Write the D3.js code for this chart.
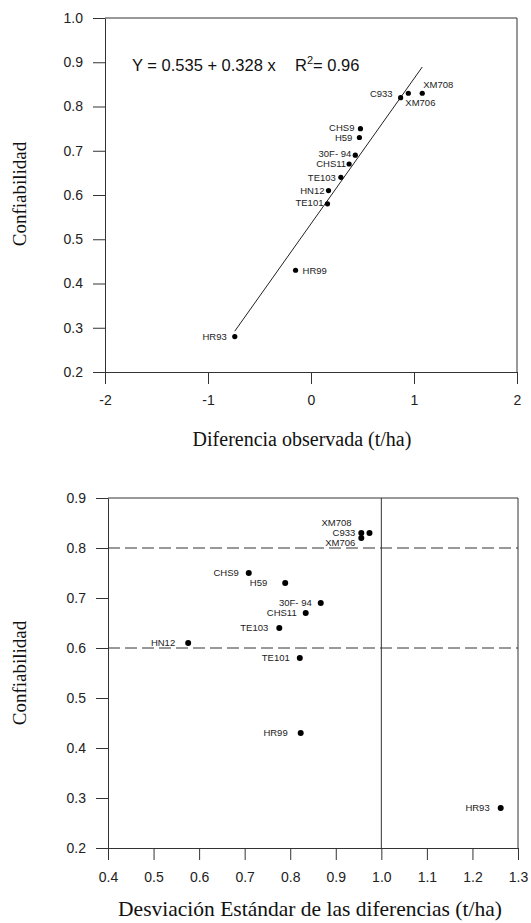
<!DOCTYPE html>
<html>
<head>
<meta charset="utf-8">
<script src="https://cdn.jsdelivr.net/npm/d3@7"></script>
<style>
    body { margin: 0; background: #fff; }
    svg { display: block; }
    .tick text { font-family: "Liberation Sans", Arial, sans-serif; font-size: 14px; fill: #222; }
    .tick line, .domain { stroke: #333; }
    .title { font-family: "Liberation Serif", "Times New Roman", serif; fill: #111; }
    .lbl { font-family: "Liberation Sans", Arial, sans-serif; font-size: 9.5px; fill: #222; }
</style>
</head>
<body>
<svg id="chart"></svg>
<script>
// hybrid names
const hybrids = ['HR93', 'HR99', 'TE101', 'HN12', 'TE103', 'CHS11', '30F- 94', 'H59', 'CHS9', 'C933', 'XM706', 'XM708'];

// confiabilidad
const reliability = [0.28, 0.43, 0.58, 0.61, 0.64, 0.67, 0.69, 0.73, 0.75, 0.82, 0.83, 0.83];

// diferencia observada (t/ha)
const observedDiff = [-0.74, -0.15, 0.16, 0.17, 0.29, 0.37, 0.43, 0.47, 0.48, 0.87, 0.945, 1.08];

// desviacion estandar de las diferencias (t/ha)
const stdDiff = [1.262, 0.823, 0.821, 0.576, 0.776, 0.834, 0.867, 0.789, 0.709, 0.956, 0.956, 0.974];
const reliability2 = [0.28, 0.43, 0.58, 0.61, 0.64, 0.67, 0.69, 0.73, 0.75, 0.83, 0.82, 0.83];

// regression
const intercept = 0.535;
const slope = 0.328;
const r2 = 0.96;
const fitRange = [-0.74, 1.08];

// reference lines in the bottom panel
const hLines = [0.8, 0.6];
const vLines = [1.0];

const xTicksTop = [-2, -1, 0, 1, 2];
const yTicksTop = [0.2, 0.3, 0.4, 0.5, 0.6, 0.7, 0.8, 0.9, 1.0];
const xTicksBottom = [0.4, 0.5, 0.6, 0.7, 0.8, 0.9, 1.0, 1.1, 1.2, 1.3];
const yTicksBottom = [0.2, 0.3, 0.4, 0.5, 0.6, 0.7, 0.8, 0.9];

// label placement (dx, dy, anchor) per hybrid, by panel
const labelTop = {
    'HR93': [-8, 0, 'end'], 'HR99': [7, 0, 'start'], 'TE101': [-4, -1, 'end'],
    'HN12': [-4, 0, 'end'], 'TE103': [-5, 0, 'end'], 'CHS11': [-3, 0, 'end'],
    '30F- 94': [-4, -2, 'end'], 'H59': [-7, 0, 'end'], 'CHS9': [-6, -0.5, 'end'],
    'C933': [-8, -4, 'end'], 'XM706': [-3, 9, 'start'], 'XM708': [1, -9, 'start']
};
const labelBottom = {
    'HR93': [-11, 0, 'end'], 'HR99': [-13, 0, 'end'], 'TE101': [-10, 0, 'end'],
    'HN12': [-13, 0, 'end'], 'TE103': [-11, 0, 'end'], 'CHS11': [-9, 0, 'end'],
    '30F- 94': [-9, 0, 'end'], 'H59': [-18, 0, 'end'], 'CHS9': [-10, 0, 'end'],
    'C933': [-6, 0, 'end'], 'XM706': [-6, 5, 'end'], 'XM708': [-18, -10, 'end']
};

const W = 531, H = 923;
const svg = d3.select('#chart').attr('width', W).attr('height', H);

function panel(cfg) {
    const g = svg.append('g');
    const x = d3.scaleLinear().domain(cfg.xdomain).range([cfg.left, cfg.right]);
    const y = d3.scaleLinear().domain(cfg.ydomain).range([cfg.bottom, cfg.top]);

    g.append('g')
        .attr('transform', `translate(0, ${cfg.bottom})`)
        .call(d3.axisBottom(x).tickValues(cfg.xticks).tickFormat(cfg.xfmt)
            .tickSize(12).tickSizeOuter(0).tickPadding(cfg.xpad));

    g.append('g')
        .attr('transform', `translate(${cfg.left}, 0)`)
        .call(d3.axisLeft(y).tickValues(cfg.yticks).tickFormat(d3.format('.1f'))
            .tickSize(12).tickSizeOuter(0).tickPadding(10));

    // frame top and right
    g.append('path')
        .attr('d', `M${cfg.left},${cfg.top}H${cfg.right}V${cfg.bottom}`)
        .attr('fill', 'none')
        .attr('stroke', '#333');

    svg.append('text')
        .attr('class', 'title')
        .style('font-size', cfg.xtitleSize + 'px')
        .attr('x', cfg.xtitleX)
        .attr('y', cfg.xtitleY)
        .attr('text-anchor', 'middle')
        .text(cfg.xlabel);

    svg.append('text')
        .attr('class', 'title')
        .style('font-size', '19px')
        .attr('transform', `translate(26, ${cfg.ytitleY}) rotate(-90)`)
        .attr('text-anchor', 'middle')
        .text('Confiabilidad');

    return { g, x, y };
}

// ---- top panel
const topP = panel({
    left: 105, right: 517, top: 18, bottom: 372,
    xdomain: [-2, 2], ydomain: [0.2, 1.0],
    xticks: xTicksTop, yticks: yTicksTop, xfmt: d => String(d), xpad: 11,
    xlabel: 'Diferencia observada (t/ha)', xtitleX: 302, xtitleY: 446, xtitleSize: 20, ytitleY: 194
});

topP.g.append('line')
    .attr('x1', topP.x(fitRange[0])).attr('y1', topP.y(intercept + slope * fitRange[0]))
    .attr('x2', topP.x(fitRange[1])).attr('y2', topP.y(intercept + slope * fitRange[1]))
    .attr('stroke', '#222')
    .attr('stroke-width', 1);

const eq = topP.g.append('text')
    .attr('x', 132).attr('y', 71)
    .style('font-family', '"Liberation Sans", Arial, sans-serif')
    .style('font-size', '16.5px')
    .attr('fill', '#111');
eq.append('tspan').text(`Y = ${intercept} + ${slope} x`);
eq.append('tspan').attr('x', 295).text('R');
eq.append('tspan').attr('dy', -7).style('font-size', '11px').text('2');
eq.append('tspan').attr('dy', 7).text(`= ${r2}`);

hybrids.forEach((h, i) => {
    const cx = topP.x(observedDiff[i]), cy = topP.y(reliability[i]);
    topP.g.append('circle').attr('cx', cx).attr('cy', cy).attr('r', 2.6).attr('fill', '#000');
    const p = labelTop[h];
    topP.g.append('text').attr('class', 'lbl')
        .attr('x', cx + p[0]).attr('y', cy + p[1]).attr('dy', '0.35em')
        .attr('text-anchor', p[2]).text(h);
});

// ---- bottom panel
const botP = panel({
    left: 108, right: 518, top: 498, bottom: 848,
    xdomain: [0.4, 1.3], ydomain: [0.2, 0.9],
    xticks: xTicksBottom, yticks: yTicksBottom, xfmt: d3.format('.1f'), xpad: 12,
    xlabel: 'Desviación Estándar de las diferencias (t/ha)', xtitleX: 310, xtitleY: 916, xtitleSize: 21.5, ytitleY: 673
});

hLines.forEach(v => {
    botP.g.append('line')
        .attr('x1', botP.x(0.4)).attr('x2', botP.x(1.3))
        .attr('y1', botP.y(v)).attr('y2', botP.y(v))
        .attr('stroke', '#333')
        .attr('stroke-dasharray', '12,5');
});
vLines.forEach(v => {
    botP.g.append('line')
        .attr('x1', botP.x(v)).attr('x2', botP.x(v))
        .attr('y1', botP.y(0.2)).attr('y2', botP.y(0.9))
        .attr('stroke', '#333');
});

hybrids.forEach((h, i) => {
    const cx = botP.x(stdDiff[i]), cy = botP.y(reliability2[i]);
    botP.g.append('circle').attr('cx', cx).attr('cy', cy).attr('r', 3).attr('fill', '#000');
    const p = labelBottom[h];
    botP.g.append('text').attr('class', 'lbl')
        .attr('x', cx + p[0]).attr('y', cy + p[1]).attr('dy', '0.35em')
        .attr('text-anchor', p[2]).text(h);
});
</script>
</body>
</html>
